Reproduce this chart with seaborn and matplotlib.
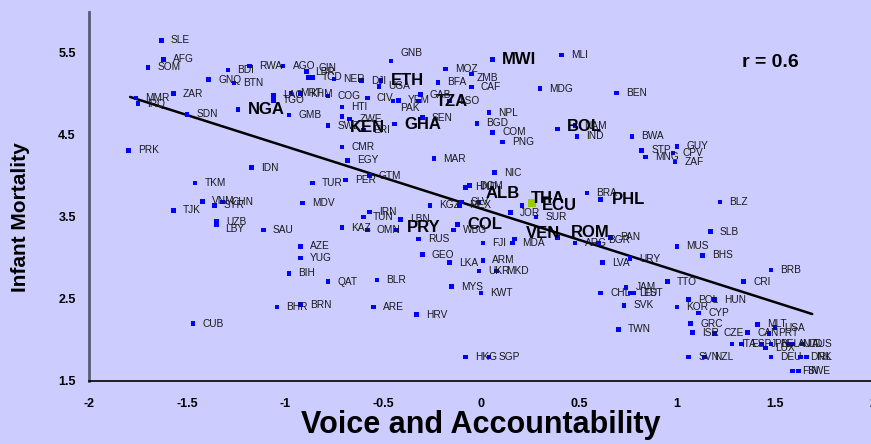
import numpy as np
import pandas as pd
import matplotlib
matplotlib.use("Agg")
import matplotlib.pyplot as plt
import seaborn as sns

# country codes, voice & accountability score, infant mortality (log)
codes = ["SLE", "AFG", "SOM", "BDI", "RWA", "AGO", "GNQ", "BTN", "ZAR", "MMR",
         "IRQ", "SDN", "NGA", "PRK", "GNB", "GIN", "LBR", "TCD", "NER", "DJI",
         "ETH", "UGA", "LAO", "TGO", "MRT", "KHM", "COG", "CIV", "PAK", "YEM",
         "TZA", "LSO", "GAB", "HTI", "GMB", "ZWE", "KEN", "SWZ", "ERI", "GHA",
         "SEN", "CMR", "EGY", "MAR", "BFA", "MOZ", "ZMB", "CAF", "MWI", "MLI",
         "MDG", "BEN", "NPL", "BGD", "COM", "PNG", "BOL", "NAM", "IND", "BWA",
         "STP", "MNG", "GUY", "CPV", "ZAF", "BLZ", "SLB", "MUS", "BHS", "BRB",
         "TTO", "CRI", "TKM", "VNM", "TJK", "SYR", "CHN", "UZB", "LBY", "IDN",
         "TUR", "PER", "GTM", "MDV", "IRN", "TUN", "LBN", "KGZ", "SAU", "KAZ",
         "OMN", "PRY", "RUS", "GEO", "LKA", "AZE", "YUG", "BIH", "QAT", "BLR",
         "NIC", "DOM", "HND", "SLV", "MEX", "ALB", "THA", "ECU", "JOR", "SUR",
         "BRA", "PHL", "COL", "WBG", "VEN", "MDA", "ROM", "FJI", "ARG", "BGR",
         "PAN", "URY", "LVA", "ARM", "UKR", "MKD", "MYS", "JAM", "KWT", "CHL",
         "LTU", "EST", "SVK", "TWN", "HKG", "SGP", "BHR", "BRN", "ARE", "HRV",
         "CUB", "POL", "HUN", "KOR", "CYP", "GRC", "ISR", "CZE", "CAN", "MLT",
         "USA", "PRT", "ITA", "ESP", "JPN", "BEL", "AUT", "NLD", "AUS", "LUX",
         "FIN", "SWE", "DEU", "DNK", "IRL", "SVN", "NZL"]

voice = [-1.63, -1.62, -1.70, -1.29, -1.18, -1.01, -1.39, -1.26, -1.57, -1.76,
         -1.75, -1.50, -1.24, -1.80, -0.46, -0.89, -0.88, -0.86, -0.75, -0.61,
         -0.51, -0.52, -1.06, -1.06, -0.97, -0.92, -0.78, -0.58, -0.45, -0.42,
         -0.32, -0.16, -0.31, -0.71, -0.98, -0.67, -0.71, -0.78, -0.60, -0.44,
         -0.30, -0.71, -0.68, -0.24, -0.22, -0.18, -0.05, -0.05, 0.06, 0.41,
         0.30, 0.69, 0.04, -0.02, 0.06, 0.11, 0.39, 0.48, 0.49, 0.77,
         0.82, 0.84, 1.00, 0.98, 0.99, 1.22, 1.17, 1.00, 1.13, 1.48,
         0.95, 1.34, -1.46, -1.42, -1.57, -1.36, -1.32, -1.35, -1.35, -1.17,
         -0.86, -0.69, -0.57, -0.91, -0.57, -0.60, -0.41, -0.26, -1.11, -0.71,
         -0.58, -0.43, -0.32, -0.30, -0.16, -0.92, -0.92, -0.98, -0.78, -0.53,
         0.07, -0.06, -0.08, -0.10, -0.11, -0.01, 0.26, 0.21, 0.15, 0.28,
         0.54, 0.61, -0.12, -0.14, 0.17, 0.16, 0.39, 0.01, 0.48, 0.60,
         0.66, 0.76, 0.62, 0.01, -0.01, 0.08, -0.15, 0.74, 0.00, 0.61,
         0.76, 0.78, 0.73, 0.70, -0.08, 0.04, -1.04, -0.92, -0.55, -0.33,
         -1.47, 1.06, 1.19, 1.00, 1.11, 1.07, 1.08, 1.19, 1.36, 1.41,
         1.50, 1.47, 1.28, 1.33, 1.43, 1.48, 1.57, 1.59, 1.64, 1.45,
         1.59, 1.62, 1.48, 1.63, 1.66, 1.06, 1.14]

mortality = [5.65, 5.42, 5.32, 5.29, 5.34, 5.34, 5.17, 5.13, 5.00, 4.95,
             4.88, 4.75, 4.81, 4.31, 5.40, 5.27, 5.20, 5.20, 5.18, 5.16,
             5.16, 5.09, 4.98, 4.92, 5.01, 5.00, 4.97, 4.95, 4.91, 4.92,
             4.91, 4.91, 4.99, 4.84, 4.74, 4.69, 4.72, 4.61, 4.56, 4.63,
             4.71, 4.35, 4.19, 4.21, 5.14, 5.30, 5.24, 5.08, 5.42, 5.47,
             5.06, 5.01, 4.77, 4.64, 4.53, 4.41, 4.57, 4.61, 4.48, 4.48,
             4.31, 4.23, 4.36, 4.28, 4.17, 3.68, 3.32, 3.14, 3.03, 2.85,
             2.71, 2.71, 3.91, 3.69, 3.58, 3.64, 3.68, 3.44, 3.40, 4.10,
             3.91, 3.95, 4.00, 3.67, 3.56, 3.50, 3.47, 3.64, 3.34, 3.37,
             3.34, 3.34, 3.23, 3.04, 2.94, 3.14, 3.00, 2.81, 2.71, 2.73,
             4.04, 3.88, 3.86, 3.68, 3.64, 3.68, 3.67, 3.64, 3.55, 3.50,
             3.79, 3.71, 3.41, 3.34, 3.23, 3.18, 3.25, 3.18, 3.18, 3.18,
             3.25, 2.99, 2.94, 2.97, 2.84, 2.84, 2.65, 2.64, 2.57, 2.57,
             2.57, 2.57, 2.42, 2.13, 1.79, 1.79, 2.40, 2.43, 2.40, 2.31,
             2.20, 2.49, 2.49, 2.40, 2.33, 2.20, 2.09, 2.08, 2.09, 2.19,
             2.15, 2.08, 1.95, 1.95, 1.95, 1.95, 1.95, 1.95, 1.95, 1.90,
             1.62, 1.62, 1.79, 1.79, 1.79, 1.79, 1.79]

bold_codes = ["ETH", "MWI", "TZA", "NGA", "KEN", "GHA", "BOL", "ALB", "THA",
              "ECU", "PHL", "PRY", "COL", "VEN", "ROM"]
highlight = "THA"

# fitted line
fit_x = [-1.79, 1.69]
fit_slope = -0.76
fit_intercept = 3.60
r_text = "r = 0.6"

# label offsets in points (right, up) where the label is not just right of its marker
label_shift = {
    "GNB": (7, 6), "GIN": (8.5, 2.5), "LBR": (5, 3.5), "PAK": (5, -5),
    "TZA": (13, 0), "KEN": (6, -8), "ZMB": (4, -3), "BOL": (7, 2),
    "PRY": (7, 2), "ALB": (5, 6), "THA": (-1, 3), "ECU": (14, 0),
    "VEN": (8, 4), "ROM": (10, 3.5), "BGR": (6.5, 2), "PHL": (8, 0),
    "LBY": (6, -3),
}

df = pd.DataFrame({"code": codes, "voice": voice, "mortality": mortality})
bg = "#CCCCFF"

sns.set_style("white")
plt.rcParams["font.family"] = ["Liberation Sans", "DejaVu Sans"]
plt.rcParams["text.color"] = "black"
plt.rcParams["axes.labelcolor"] = "black"
plt.rcParams["xtick.color"] = "black"
plt.rcParams["ytick.color"] = "black"

fig = plt.figure(figsize=(8.71, 4.44), dpi=100, facecolor=bg)
ax = fig.add_axes([0.1022, 0.1419, 0.9001, 0.8319])
ax.set_facecolor(bg)

normal = df[df["code"] != highlight]
special = df[df["code"] == highlight]
sns.scatterplot(data=normal, x="voice", y="mortality", marker="s", s=11,
                color="#0000FF", edgecolor="none", linewidth=0, ax=ax, zorder=3)
sns.scatterplot(data=special, x="voice", y="mortality", marker="s", s=30,
                color="#99CC00", edgecolor="none", linewidth=0, ax=ax, zorder=4)

line_x = np.array(fit_x)
sns.lineplot(x=line_x, y=fit_intercept + fit_slope * line_x, color="black",
             linewidth=1.8, ax=ax, zorder=2)

for c, xv, yv in zip(codes, voice, mortality):
    dx, dy = label_shift.get(c, (6.8, 0))
    if c in bold_codes:
        ax.annotate(c, (xv, yv), xytext=(dx, dy), textcoords="offset points",
                    va="center", ha="left", fontsize=12, fontweight="bold",
                    color="black", zorder=5)
    else:
        ax.annotate(c, (xv, yv), xytext=(dx, dy), textcoords="offset points",
                    va="center", ha="left", fontsize=7.3, color="#1a1a1a",
                    zorder=5)

ax.text(1.474, 5.378, r_text, ha="center", va="center", fontsize=14,
        fontweight="bold", color="black")

ax.set_xlim(-2, 2)
ax.set_ylim(1.5, 6.0)
ax.set_xticks([-2, -1.5, -1, -0.5, 0, 0.5, 1, 1.5, 2])
ax.set_xticklabels(["-2", "-1.5", "-1", "-0.5", "0", "0.5", "1", "1.5", "2"])
ax.set_yticks([1.5, 2.5, 3.5, 4.5, 5.5])
ax.set_yticklabels(["1.5", "2.5", "3.5", "4.5", "5.5"])
for lab in ax.get_xticklabels() + ax.get_yticklabels():
    lab.set_fontweight("bold")
    lab.set_fontsize(9)
    lab.set_color("black")

sns.despine(ax=ax)
ax.spines["left"].set_color("#5A5A78")
ax.spines["left"].set_linewidth(2)
ax.spines["bottom"].set_color("black")
ax.spines["bottom"].set_linewidth(1.2)
ax.tick_params(axis="y", direction="out", length=3.5, width=1, color="#5A5A78", pad=6)
ax.tick_params(axis="x", direction="out", length=3.5, width=1, color="black", pad=9)

ax.set_xlabel("Voice and Accountability", fontsize=22, fontweight="bold",
              labelpad=0, color="black")
ax.set_ylabel("Infant Mortality", fontsize=15, fontweight="bold", color="black")
ax.yaxis.set_label_coords(-0.075, 0.444)

fig.savefig("out.png", dpi=100, facecolor=bg)
